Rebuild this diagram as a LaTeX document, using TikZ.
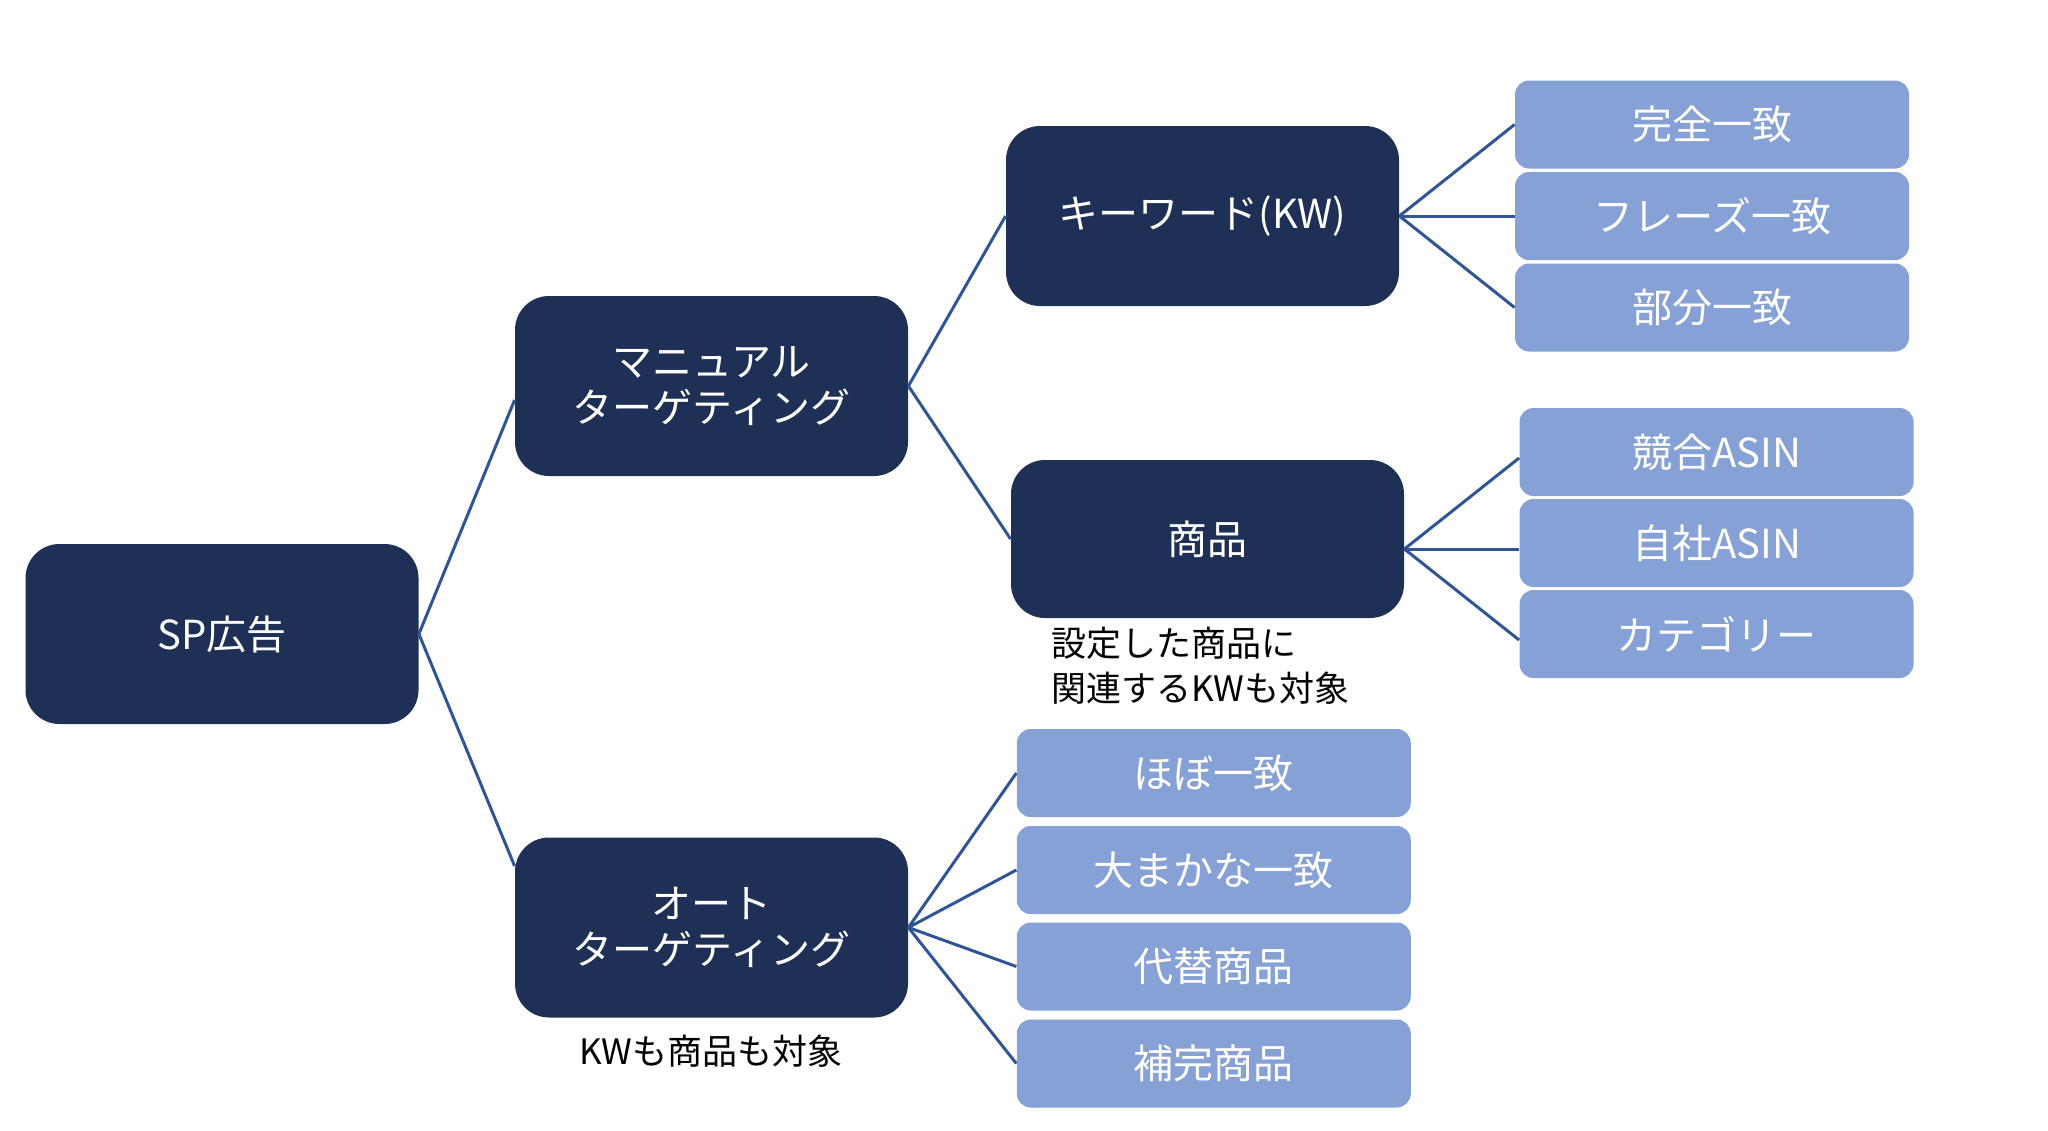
\documentclass[tikz,border=0pt]{standalone}
\usepackage{fontspec}
\newfontfamily\cjk{Noto Sans CJK JP}
\usepackage{tikz}
\usepackage{xcolor}
\definecolor{navy}{HTML}{1F3056}
\definecolor{paleblue}{HTML}{86A1D5}
\definecolor{linkblue}{HTML}{2F5597}

\begin{document}
\begin{tikzpicture}[x=0.5pt,y=0.5pt,yscale=-1,xscale=1,
  darkbox/.style={fill=navy, text=white, rounded corners=17pt, minimum width=196.5pt, minimum height=90pt, inner sep=0pt, align=center, font=\cjk\fontsize{20}{23}\selectfont},
  lightbox/.style={fill=paleblue, text=white, rounded corners=7pt, minimum width=197pt, minimum height=44pt, inner sep=0pt, font=\cjk\fontsize{20}{23}\selectfont},
  link/.style={draw=linkblue, line width=1.5pt},
  note/.style={text=black, inner sep=0pt, align=left, font=\cjk\fontsize{17.5}{22.5}\selectfont}]
\useasboundingbox (0,0) rectangle (2048,1130);

%Shape: Rounded Rect [id:sp] 
\node (sp) at (222,634) [darkbox] {SP広告};
%Shape: Rounded Rect [id:manual] 
\node (manual) at (711.5,386) [darkbox] {マニュアル\\ターゲティング};
%Shape: Rounded Rect [id:auto] 
\node (auto) at (711.5,927.5) [darkbox] {オート\\ターゲティング};
%Shape: Rounded Rect [id:kw] 
\node (kw) at (1202.5,216) [darkbox] {キーワード(KW)};
%Shape: Rounded Rect [id:shohin] 
\node (shohin) at (1207.5,539) [darkbox, minimum height=79pt] {商品};

%Shape: Rounded Rect [id:kanzen] 
\node (kanzen) at (1712,124.5) [lightbox] {完全一致};
%Shape: Rounded Rect [id:phrase] 
\node (phrase) at (1712,216) [lightbox] {フレーズ一致};
%Shape: Rounded Rect [id:bubun] 
\node (bubun) at (1712,307.5) [lightbox] {部分一致};

%Shape: Rounded Rect [id:kyogo] 
\node (kyogo) at (1716.5,452) [lightbox] {競合ASIN};
%Shape: Rounded Rect [id:jisha] 
\node (jisha) at (1716.5,543) [lightbox] {自社ASIN};
%Shape: Rounded Rect [id:category] 
\node (category) at (1716.5,634) [lightbox] {カテゴリー};

%Shape: Rounded Rect [id:hobo] 
\node (hobo) at (1213.75,773) [lightbox] {ほぼ一致};
%Shape: Rounded Rect [id:omaka] 
\node (omaka) at (1213.75,870) [lightbox] {大まかな一致};
%Shape: Rounded Rect [id:daitai] 
\node (daitai) at (1213.75,966.5) [lightbox] {代替商品};
%Shape: Rounded Rect [id:hokan] 
\node (hokan) at (1213.75,1063.5) [lightbox] {補完商品};

%Straight Lines [id:sp-manual] 
\draw[link] (sp.east) -- ([yshift=7pt]manual.west) ;
%Straight Lines [id:sp-auto] 
\draw[link] (sp.east) -- ([yshift=-30.75pt]auto.west) ;
%Straight Lines [id:manual-kw] 
\draw[link] (manual.east) -- (kw.west) ;
%Straight Lines [id:manual-shohin] 
\draw[link] (manual.east) -- (shohin.west) ;
%Straight Lines [id:kw-kanzen] 
\draw[link] (kw.east) -- (kanzen.west) ;
%Straight Lines [id:kw-phrase] 
\draw[link] (kw.east) -- (phrase.west) ;
%Straight Lines [id:kw-bubun] 
\draw[link] (kw.east) -- (bubun.west) ;
%Straight Lines [id:shohin-kyogo] 
\draw[link] ([yshift=5pt]shohin.east) -- ([yshift=3pt]kyogo.west) ;
%Straight Lines [id:shohin-jisha] 
\draw[link] ([yshift=5pt]shohin.east) -- ([yshift=3pt]jisha.west) ;
%Straight Lines [id:shohin-category] 
\draw[link] ([yshift=5pt]shohin.east) -- ([yshift=3pt]category.west) ;
%Straight Lines [id:auto-hobo] 
\draw[link] (auto.east) -- (hobo.west) ;
%Straight Lines [id:auto-omaka] 
\draw[link] (auto.east) -- (omaka.west) ;
%Straight Lines [id:auto-daitai] 
\draw[link] (auto.east) -- (daitai.west) ;
%Straight Lines [id:auto-hokan] 
\draw[link] (auto.east) -- (hokan.west) ;

% Text Node
\node (shohinnote) at (1051,665.5) [note, anchor=west] {設定した商品に\\関連するKWも対象};
% Text Node
\node (autonote) at (711,1051) [note] {KWも商品も対象};

\end{tikzpicture}
\end{document}
